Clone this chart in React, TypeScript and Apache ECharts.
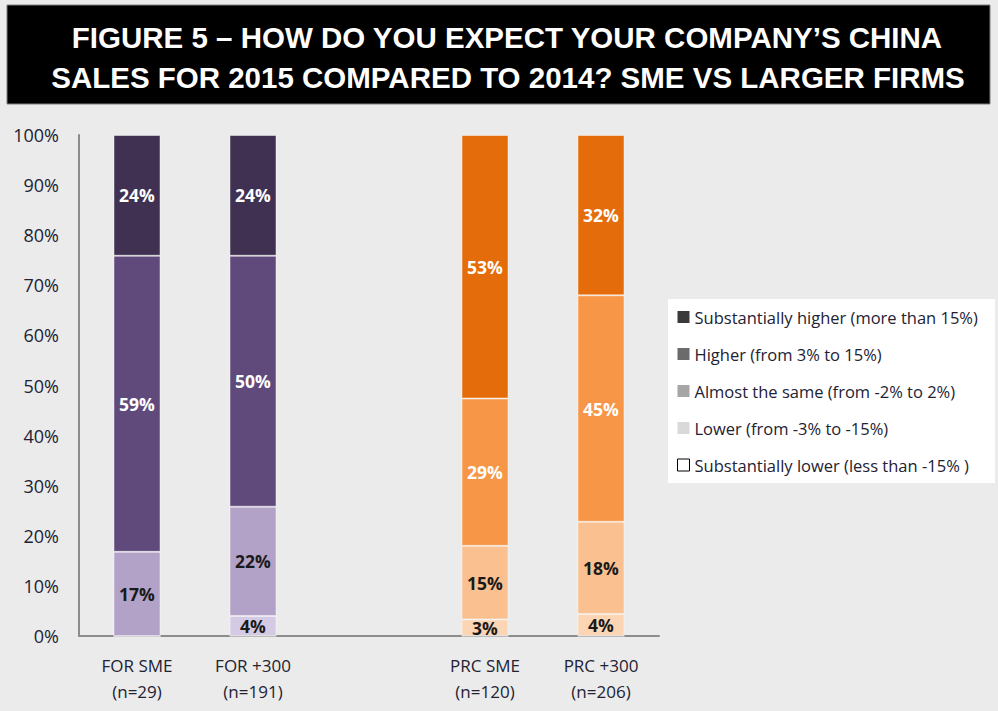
import React, { useEffect, useRef } from "react";
import * as echarts from "echarts";

const categories = ["FOR SME\n(n=29)", "FOR +300\n(n=191)", "", "PRC SME\n(n=120)", "PRC +300\n(n=206)"];
const seriesNames = [
  "Substantially lower (less than -15% )",
  "Lower (from -3% to -15%)",
  "Almost the same (from -2% to 2%)",
  "Higher (from 3% to 15%)",
  "Substantially higher (more than 15%)",
];
const substantiallyLower = [0, 0, null, 0, 0];
const lower = [0, 4.0, null, 3.3, 4.4];
const almostSame = [16.8, 21.8, null, 14.7, 18.4];
const higher = [59.1, 50.1, null, 29.4, 45.2];
const substantiallyHigher = [24.1, 24.1, null, 52.6, 32.0];
const yTicks = { min: 0, max: 100, interval: 10 };

// styles
const forColors = ["#ffffff", "#d5cae3", "#b3a2c7", "#604a7b", "#403152"];
const prcColors = ["#ffffff", "#fcd5b5", "#fac090", "#f79646", "#e46c0a"];
const legendColors = ["#ffffff", "#d9d9d9", "#a6a6a6", "#6b6b6b", "#3a3a3a"];
const labelColors = ["#1a1a1a", "#1a1a1a", "#1a1a1a", "#ffffff", "#ffffff"];

const allSeries = [substantiallyLower, lower, almostSame, higher, substantiallyHigher];

export default function App() {
  const ref = useRef<HTMLDivElement>(null);
  useEffect(() => {
    if (!ref.current) return;
    const chart = echarts.init(ref.current, null, { renderer: "svg" });
    const series = allSeries.map((vals, si) => ({
      name: seriesNames[si],
      type: "bar",
      stack: "total",
      barWidth: 47,
      data: vals.map((v, ci) =>
        v === null
          ? "-"
          : {
              value: v,
              itemStyle: {
                color: ci < 2 ? forColors[si] : prcColors[si],
                borderColor: "rgba(255,255,255,0.45)",
                borderWidth: 1,
              },
            }
      ),
      label: {
        show: true,
        position: "inside",
        fontFamily: "Open Sans",
        fontWeight: "bold",
        fontSize: 17.5,
        color: labelColors[si],
        formatter: (p: any) => (p.value > 0 ? Math.round(p.value) + "%" : ""),
      },
      emphasis: { disabled: true },
    }));
    chart.setOption({
      animation: false,
      backgroundColor: "#ebebeb",
      grid: { left: 79, right: 339, top: 135, bottom: 75 },
      xAxis: {
        type: "category",
        data: categories,
        axisLine: { lineStyle: { color: "#8c8c8c", width: 2 } },
        axisTick: { show: false },
        axisLabel: {
          fontFamily: "Open Sans",
          fontSize: 17,
          color: "#222233",
          lineHeight: 26,
          margin: 16,
          interval: 0,
        },
      },
      yAxis: {
        type: "value",
        min: yTicks.min,
        max: yTicks.max,
        interval: yTicks.interval,
        splitLine: { show: false },
        axisLine: { show: true, lineStyle: { color: "#8c8c8c", width: 2 } },
        axisTick: { show: false },
        axisLabel: {
          formatter: "{value}%",
          fontFamily: "Open Sans",
          fontSize: 18,
          color: "#222233",
          margin: 20,
        },
      },
      legend: {
        orient: "vertical",
        left: 677,
        top: 308,
        padding: 0,
        itemWidth: 12,
        itemHeight: 12,
        itemGap: 19,
        itemTextGap: 4,
        icon: "rect",
        selectedMode: false,
        textStyle: { fontFamily: "Open Sans", fontSize: 16.5, color: "#222233", lineHeight: 18 },
        data: [4, 3, 2, 1, 0].map((i) => ({
          name: seriesNames[i],
          itemStyle: {
            color: legendColors[i],
            borderColor: i === 0 ? "#000000" : legendColors[i],
            borderWidth: i === 0 ? 1 : 0,
          },
        })),
      },
      graphic: [
        {
          type: "rect",
          shape: { x: 7, y: 5, width: 983, height: 99 },
          style: { fill: "#000000", stroke: "#7f7f7f", lineWidth: 1 },
          silent: true,
        },
        {
          type: "text",
          style: {
            text: "FIGURE 5 – HOW DO YOU EXPECT YOUR COMPANY’S CHINA",
            x: 507,
            y: 37,
            align: "center",
            verticalAlign: "middle",
            fill: "#ffffff",
            fontFamily: "Liberation Sans",
            fontWeight: "bold",
            fontSize: 29.5,
          },
          silent: true,
        },
        {
          type: "text",
          style: {
            text: "SALES FOR 2015 COMPARED TO 2014? SME VS LARGER FIRMS",
            x: 508,
            y: 77,
            align: "center",
            verticalAlign: "middle",
            fill: "#ffffff",
            fontFamily: "Liberation Sans",
            fontWeight: "bold",
            fontSize: 29.5,
          },
          silent: true,
        },
        {
          type: "rect",
          shape: { x: 668, y: 299, width: 327, height: 184 },
          style: { fill: "#ffffff" },
          silent: true,
          z: -1,
        },
      ],
      series,
    });
    return () => chart.dispose();
  }, []);
  return (
    <div
      ref={ref}
      style={{ position: "absolute", left: 0, top: 0, width: 998, height: 711, background: "#ebebeb" }}
    />
  );
}
